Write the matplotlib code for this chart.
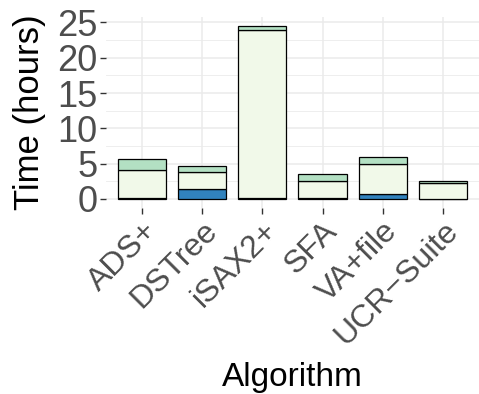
import numpy as np
import matplotlib
matplotlib.use('Agg')
import matplotlib.pyplot as plt
from matplotlib.ticker import MultipleLocator

# values (hours)
algorithms = ["ADS+", "DSTree", "iSAX2+", "SFA", "VA+file", "UCR\u2212Suite"]
bottom_part = [0.12, 1.48, 0.2, 0.15, 0.7, 0.03]
middle_part = [4.02, 2.33, 23.8, 2.37, 4.3, 2.2]
top_part = [1.57, 0.8, 0.5, 1.0, 0.9, 0.38]

colors = ["#3182bd", "#f1f9e9", "#b3e0c3"]

plt.rcParams['font.family'] = ['Liberation Sans', 'DejaVu Sans']

fig = plt.figure(figsize=(4.79, 3.94), dpi=100)
ax = fig.add_axes([0.221, 0.473, 0.779, 0.483])

x = np.arange(len(algorithms))
b = np.array(bottom_part)
m = np.array(middle_part)
t = np.array(top_part)
kw = dict(width=0.8, edgecolor="black", linewidth=0.9, zorder=3)
ax.bar(x, b, color=colors[0], **kw)
ax.bar(x, m, bottom=b, color=colors[1], **kw)
ax.bar(x, t, bottom=b + m, color=colors[2], **kw)

total = (b + m + t).max()
ax.set_xlim(-0.6, len(algorithms) - 0.4)
ax.set_ylim(-0.05 * total, total * 1.05)
ax.yaxis.set_major_locator(MultipleLocator(5))
ax.yaxis.set_minor_locator(MultipleLocator(2.5))

ax.grid(which='major', color='#ebebeb', linewidth=1.1, zorder=0)
ax.grid(which='minor', axis='y', color='#ebebeb', linewidth=0.6, zorder=0)
for s in ax.spines.values():
    s.set_visible(False)

ax.set_xticks(x)
ax.set_xticklabels(algorithms, rotation=45, ha='right', rotation_mode='anchor')
ax.tick_params(axis='both', which='major', length=4, width=1, color='#333333',
               labelcolor='#4d4d4d', pad=2)
ax.tick_params(axis='x', labelsize=23)
ax.tick_params(axis='y', labelsize=26)
ax.tick_params(axis='y', which='minor', length=0)

ax.set_xlabel("Algorithm", fontsize=24, color='black', labelpad=8)
ax.set_ylabel("Time (hours)", fontsize=25, color='black', labelpad=8)

fig.savefig("out.png", dpi=100)
